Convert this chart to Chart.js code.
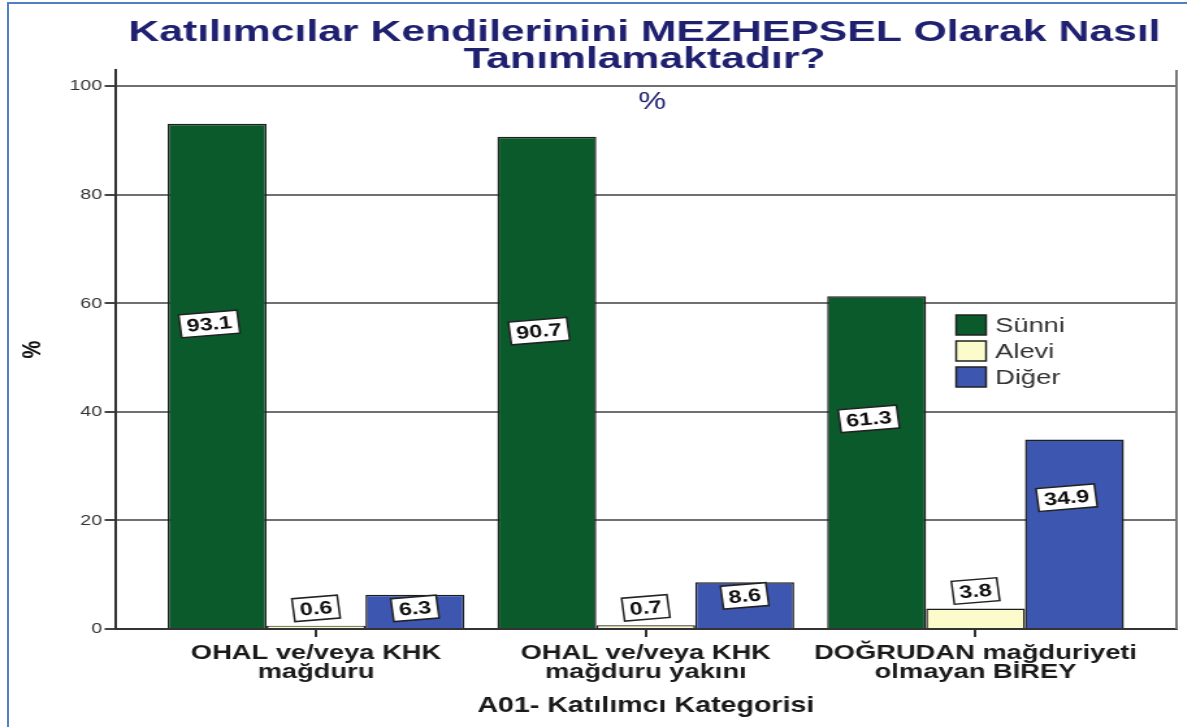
<!DOCTYPE html>
<html lang="tr">
<head>
<meta charset="utf-8">
<title>Mezhepsel Tanımlama</title>
<script src="https://cdn.jsdelivr.net/npm/chart.js@4.4.1/dist/chart.umd.min.js"></script>
<style>
  html, body { margin: 0; padding: 0; background: #fff; }
  body { width: 1195px; height: 727px; position: relative; overflow: hidden; }
  #wrap { position: absolute; left: 0; top: 0; width: 919px; height: 727px;
          transform-origin: 0 0; transform: scaleX(1.3); }
  #frame { position: absolute; left: 7px; top: 2px; width: 1178px; height: 760px;
           border-left: 2px solid #4f7fc4; border-top: 2px solid #4f7fc4; pointer-events: none; }
</style>
</head>
<body>
<div id="wrap"><canvas id="chart"></canvas></div>
<div id="frame"></div>
<script>
// Veriler
const categories = [
  ["OHAL ve/veya KHK", "mağduru"],
  ["OHAL ve/veya KHK", "mağduru yakını"],
  ["DOĞRUDAN mağduriyeti", "olmayan BİREY"]
];
const seriesNames = ["Sünni", "Alevi", "Diğer"];
const sunni = [93.1, 90.7, 61.3];
const alevi = [0.6, 0.7, 3.8];
const diger = [6.3, 8.6, 34.9];
const yTicks = [0, 20, 40, 60, 80, 100];
const titleLines = ["Katılımcılar Kendilerinini MEZHEPSEL Olarak Nasıl", "Tanımlamaktadır?"];

const STRETCH = 1.3; // orijinal görsel yatayda gerilmiş
const FONT = '"Liberation Sans", Arial, sans-serif';
const NAVY = "#1f2070";

function toPoints(arr) {
  return arr.map((v, i) => ({ x: i, y: v }));
}

// etiketin dikey konumu (SPSS benzeri yerleşim)
function labelValue(v) {
  if (v < 5) return v + 3.2;
  if (v <= 10) return v - 2.5;
  return v * 0.55 + 5;
}

const decorPlugin = {
  id: "decor",
  afterDraw(chart) {
    const { ctx, chartArea, scales } = chart;
    const cx = (chartArea.left + chartArea.right) / 2;

    // başlık
    ctx.save();
    ctx.fillStyle = NAVY;
    ctx.font = "bold 30px " + FONT;
    ctx.textAlign = "center";
    ctx.textBaseline = "alphabetic";
    const w = ctx.measureText(titleLines[0]).width;
    const fit = (1032 / STRETCH) / w;
    ctx.translate(cx - 1, 0);
    ctx.scale(fit, 1);
    ctx.fillText(titleLines[0], 0, 41);
    ctx.fillText(titleLines[1], 0, 68);
    ctx.restore();

    // "%" alt başlık
    ctx.save();
    ctx.fillStyle = NAVY;
    ctx.font = "24px " + FONT;
    ctx.textAlign = "center";
    ctx.textBaseline = "middle";
    ctx.fillText("%", cx + 5, 102);
    ctx.restore();

    // sağ çerçeve çizgisi
    ctx.save();
    ctx.strokeStyle = "#777";
    ctx.lineWidth = 2;
    ctx.beginPath();
    ctx.moveTo(chartArea.right, chartArea.top);
    ctx.lineTo(chartArea.right, chartArea.bottom);
    ctx.stroke();
    ctx.restore();

    // değer etiketleri
    chart.data.datasets.forEach((ds, di) => {
      const meta = chart.getDatasetMeta(di);
      meta.data.forEach((bar, i) => {
        const v = ds.data[i].y;
        const x = bar.x + (v > 10 ? -6 : 0);
        const y = scales.y.getPixelForValue(labelValue(v));
        const txt = v.toFixed(1);
        ctx.save();
        ctx.font = "bold 18px " + FONT;
        const tw = ctx.measureText(txt).width;
        const bw = tw + 10, bh = 23;
        ctx.translate(x, y);
        ctx.rotate(-6 * Math.PI / 180);
        ctx.fillStyle = "#fff";
        ctx.fillRect(-bw / 2, -bh / 2, bw, bh);
        ctx.strokeStyle = "#222";
        ctx.lineWidth = 1.5;
        ctx.strokeRect(-bw / 2, -bh / 2, bw, bh);
        ctx.fillStyle = "#111";
        ctx.textAlign = "center";
        ctx.textBaseline = "middle";
        ctx.fillText(txt, 0, 1);
        ctx.restore();
      });
    });

    // lejant
    const lx = chartArea.left + 647;
    const rows = [325, 351, 377];
    ctx.save();
    ctx.font = "21px " + FONT;
    ctx.textBaseline = "middle";
    chart.data.datasets.forEach((ds, di) => {
      const ry = rows[di];
      ctx.fillStyle = ds.backgroundColor;
      ctx.fillRect(lx, ry - 10, 23, 20);
      ctx.strokeStyle = "#222";
      ctx.lineWidth = 1.5;
      ctx.strokeRect(lx, ry - 10, 23, 20);
      ctx.fillStyle = "#333";
      ctx.fillText(ds.label, lx + 30, ry + 1);
    });
    ctx.restore();
  }
};

const ctx = document.getElementById("chart");
new Chart(ctx, {
  type: "bar",
  data: {
    datasets: [
      { label: seriesNames[0], data: toPoints(sunni), backgroundColor: "#0b5a2c" },
      { label: seriesNames[1], data: toPoints(alevi), backgroundColor: "#fbfbcc" },
      { label: seriesNames[2], data: toPoints(diger), backgroundColor: "#3d56b0" }
    ]
  },
  options: {
    responsive: true,
    maintainAspectRatio: false,
    animation: false,
    layout: { padding: { top: 70, right: 14, left: 0, bottom: 0 } },
    datasets: {
      bar: { categoryPercentage: 0.9, barPercentage: 1.0, borderWidth: 1.5, borderColor: "#1e1e1e" }
    },
    plugins: {
      legend: { display: false },
      tooltip: { enabled: false }
    },
    scales: {
      x: {
        type: "linear",
        min: -0.6095,
        max: 2.6095,
        offset: false,
        afterBuildTicks: (s) => { s.ticks = categories.map((c, i) => ({ value: i })); },
        afterFit: (s) => { s.height = 98; },
        ticks: {
          callback: (v) => categories[v],
          font: { family: FONT, size: 21, weight: "bold", lineHeight: 0.9 },
          color: "#1a1a1a",
          padding: 7,
          maxRotation: 0,
          autoSkip: false
        },
        grid: { offset: false, drawOnChartArea: false, drawTicks: true, tickLength: 8, color: "#333", lineWidth: 2 },
        border: { color: "#333", width: 2 },
        title: {
          display: true,
          text: "A01- Katılımcı Kategorisi",
          font: { family: FONT, size: 22, weight: "bold" },
          color: "#1a1a1a",
          padding: { top: 0, bottom: 8 }
        }
      },
      y: {
        min: 0,
        max: 103,
        afterBuildTicks: (s) => { s.ticks = yTicks.map((v) => ({ value: v })); },
        afterFit: (s) => { s.width = 88.5; },
        ticks: { font: { family: FONT, size: 15 }, color: "#333", padding: 2 },
        grid: { color: "#707070", lineWidth: 2, tickLength: 8, tickColor: "#444" },
        border: { color: "#333", width: 2 },
        title: {
          display: true,
          text: "%",
          font: { family: FONT, size: 20, weight: "bold" },
          color: "#111",
          padding: { top: 13, bottom: 0 }
        }
      }
    }
  },
  plugins: [decorPlugin]
});
</script>
</body>
</html>
